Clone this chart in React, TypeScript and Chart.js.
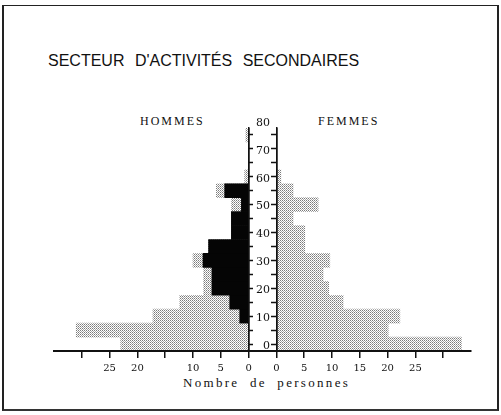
import React, { useEffect, useRef, useState } from 'react';
import { Chart, registerables } from 'chart.js';

Chart.register(...registerables);

// Age groups (5-year classes), centre of each class in years
const ageCenters = [2.5, 7.5, 12.5, 17.5, 22.5, 27.5, 32.5, 37.5, 42.5, 47.5, 52.5, 57.5, 62.5, 67.5, 72.5, 77.5];
// HOMMES: total (stippled) and subset in black
const hommesTotal = [23, 31, 17.2, 12.4, 8.1, 8.1, 10, 7.2, 3.1, 3.1, 3.1, 5.8, 0.7, 0, 0, 0.5];
const hommesNoir = [0, 0, 1.6, 3.4, 6.6, 6.6, 8.2, 7.2, 3.1, 3.1, 1.3, 4.3, 0, 0, 0, 0];
// FEMMES: total (stippled)
const femmesTotal = [33.3, 20.1, 22.2, 12.0, 9.4, 8.4, 9.6, 5.1, 5.1, 3.0, 7.5, 3.0, 0.8, 0, 0, 0];

// Count axis ticks and their printed labels (some labels are absent on the original)
const countTicks = [0, 5, 10, 15, 20, 25, 30];
const hommesTickLabels = ['0', '5', '10', '', '20', '25', ''];
const femmesTickLabels = ['0', '5', '10', '15', '20', '25', ''];

const ageMin = 0;
const ageMax = 80;

// Layout constants (count units): half width of the central age column, axis span per side
const GAP = 2.5;
const SPAN = 35;

export default function App() {
  const ref = useRef<HTMLCanvasElement | null>(null);
  const [, setDrawn] = useState(false);

  useEffect(() => {
    const canvas = ref.current;
    if (!canvas) return;
    const ctx = canvas.getContext('2d');
    if (!ctx) return;

    const pc = document.createElement('canvas');
    pc.width = 2;
    pc.height = 2;
    const p = pc.getContext('2d')!;
    p.fillStyle = '#ffffff';
    p.fillRect(0, 0, 2, 2);
    p.fillStyle = '#7a7a7a';
    p.fillRect(0, 0, 1, 1);
    p.fillStyle = '#a8a8a8';
    p.fillRect(1, 1, 1, 1);
    const stipple = ctx.createPattern(pc, 'repeat') as any;

    const lineColor = '#111';
    const isColumnEdge = (c: any) => {
      const v = c && c.tick ? Math.abs(c.tick.value) : NaN;
      return Math.abs(v - GAP) < 1e-6;
    };

    const chart = new Chart(ctx, {
      type: 'bar',
      data: {
        datasets: [
          {
            label: 'Hommes (noir)',
            data: ageCenters.map((a, i) => ({ y: a, x: [-GAP - hommesNoir[i], -GAP] })) as any,
            backgroundColor: '#050505',
            order: 0,
          },
          {
            label: 'Hommes',
            data: ageCenters.map((a, i) => ({ y: a, x: [-GAP - hommesTotal[i], -GAP] })) as any,
            backgroundColor: stipple,
            order: 1,
          },
          {
            label: 'Femmes',
            data: ageCenters.map((a, i) => ({ y: a, x: [GAP, GAP + femmesTotal[i]] })) as any,
            backgroundColor: stipple,
            order: 1,
          },
        ],
      },
      options: {
        indexAxis: 'y',
        animation: false,
        responsive: false,
        events: [],
        layout: { padding: { left: 54, right: 30, top: 128, bottom: 64 } },
        plugins: {
          legend: { display: false },
          tooltip: { enabled: false },
          title: { display: false },
        },
        datasets: {
          bar: {
            grouped: false,
            barPercentage: 1,
            categoryPercentage: 1,
            borderWidth: 0,
          },
        } as any,
        scales: {
          x: {
            type: 'linear',
            min: -GAP - SPAN,
            max: GAP + SPAN,
            position: { y: 0 } as any,
            afterBuildTicks: (s: any) => {
              s.ticks = [
                ...countTicks.map((c) => ({ value: -GAP - c })),
                ...countTicks.map((c) => ({ value: GAP + c })),
              ];
            },
            ticks: {
              autoSkip: false,
              maxRotation: 0,
              padding: 5,
              color: '#111',
              font: { family: 'DejaVu Serif', size: 10 },
              callback: (v: any) => {
                const val = Number(v);
                if (val < 0) {
                  const idx = countTicks.indexOf(Math.round(-val - GAP));
                  return idx >= 0 ? hommesTickLabels[idx] : '';
                }
                const idx = countTicks.indexOf(Math.round(val - GAP));
                return idx >= 0 ? femmesTickLabels[idx] : '';
              },
            },
            grid: {
              z: 1,
              offset: false,
              drawOnChartArea: true,
              drawTicks: true,
              tickLength: 6,
              tickWidth: 1.5,
              tickColor: lineColor,
              lineWidth: 1.5,
              color: (c: any) => (isColumnEdge(c) ? lineColor : 'rgba(0,0,0,0)'),
            },
            border: { z: 1, display: true, color: lineColor, width: 2 },
          },
          y: {
            type: 'linear',
            min: ageMin,
            max: ageMax,
            offset: false,
            position: { x: 1.35 } as any,
            ticks: {
              stepSize: 10,
              padding: 0,
              labelOffset: -5,
              color: '#111',
              font: { family: 'DejaVu Serif', size: 11 },
            },
            grid: { display: false, drawTicks: false, offset: false },
            border: { display: false },
          },
          yL: {
            type: 'linear',
            min: ageMin,
            max: ageMax,
            offset: false,
            position: { x: -GAP } as any,
            ticks: { stepSize: 5, display: false },
            grid: { z: 1, drawOnChartArea: false, drawTicks: true, tickLength: -5, tickWidth: 1.5, tickColor: lineColor, color: lineColor },
            border: { z: 1, display: true, color: lineColor, width: 1.5 },
          },
          yR: {
            type: 'linear',
            min: ageMin,
            max: ageMax,
            offset: false,
            position: { x: GAP } as any,
            ticks: { stepSize: 5, display: false },
            grid: { z: 1, drawOnChartArea: false, drawTicks: true, tickLength: 5, tickWidth: 1.5, tickColor: lineColor, color: lineColor },
            border: { z: 1, display: true, color: lineColor, width: 1.5 },
          },
        } as any,
      },
    });

    chart.update();
    setDrawn(true);

    return () => chart.destroy();
  }, []);

  return (
    <div
      style={{
        position: 'fixed',
        left: 0,
        top: 0,
        width: 501,
        height: 415,
        background: '#fff',
        overflow: 'hidden',
      }}
    >
      <div
        style={{
          position: 'absolute',
          left: 2,
          top: 5,
          width: 497,
          height: 406,
          boxSizing: 'border-box',
          borderTop: '1px solid #222',
          borderBottom: '2px solid #333',
          borderLeft: '2px solid #222',
          borderRight: '2px solid #222',
        }}
      />
      <div
        style={{
          position: 'absolute',
          left: 48,
          top: 53,
          font: '16px "Liberation Sans", Arial, sans-serif',
          lineHeight: '16px',
          wordSpacing: 6,
          color: '#111',
          whiteSpace: 'nowrap',
        }}
      >
        SECTEUR D'ACTIVITÉS SECONDAIRES
      </div>
      <div
        style={{
          position: 'absolute',
          left: 140,
          top: 115,
          font: '12px "Liberation Serif", serif',
          lineHeight: '12px',
          letterSpacing: 2,
          color: '#111',
          whiteSpace: 'nowrap',
        }}
      >
        HOMMES
      </div>
      <div
        style={{
          position: 'absolute',
          left: 318,
          top: 115,
          font: '12px "Liberation Serif", serif',
          lineHeight: '12px',
          letterSpacing: 2,
          color: '#111',
          whiteSpace: 'nowrap',
        }}
      >
        FEMMES
      </div>
      <div
        style={{
          position: 'absolute',
          left: 183,
          top: 376,
          font: '13px "Liberation Serif", serif',
          lineHeight: '13px',
          letterSpacing: 2.3,
          wordSpacing: 5,
          color: '#111',
          whiteSpace: 'nowrap',
        }}
      >
        Nombre de personnes
      </div>
      <canvas ref={ref} width={501} height={415} style={{ position: 'absolute', left: 0, top: 0 }} />
    </div>
  );
}
